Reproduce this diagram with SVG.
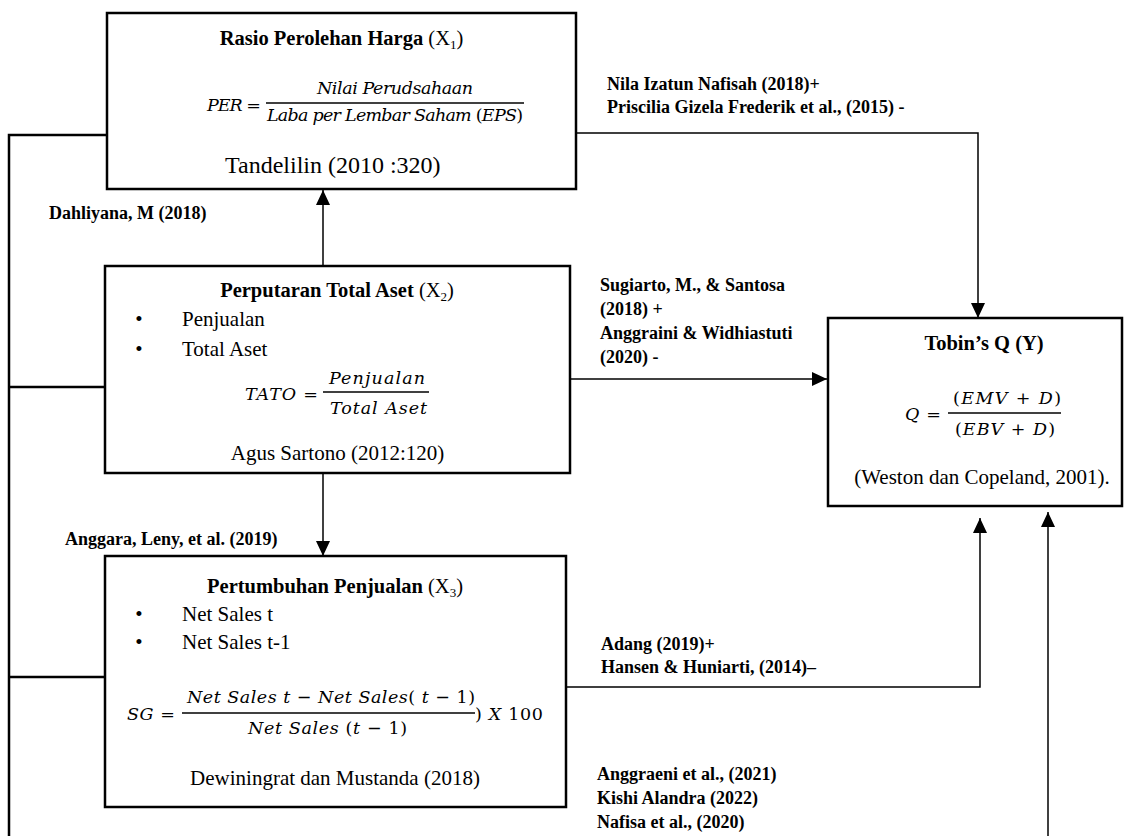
<svg xmlns="http://www.w3.org/2000/svg" width="1133" height="836" viewBox="0 0 1133 836">
<style>
.box{fill:#fff;stroke:#000;stroke-width:2.5}
.t{font-family:"Liberation Serif","Times New Roman",serif;fill:#000}
.title{font-size:20.5px;font-weight:bold}
.nb{font-weight:normal}
.body{font-size:21px}
.lab{font-family:"Liberation Serif","Times New Roman",serif;font-size:18px;font-weight:bold;fill:#000}
.m{font-family:"DejaVu Serif",serif;font-style:italic;font-size:17.5px;fill:#000}
.up{font-style:normal}
.sub{font-size:13px}
.conn{fill:none;stroke:#000;stroke-width:1.5}
.spine{fill:none;stroke:#000;stroke-width:2.5}
.frac{stroke:#000;stroke-width:1.4}
</style>
<defs>
<marker id="ah" markerUnits="userSpaceOnUse" markerWidth="16" markerHeight="16" refX="15" refY="7" orient="auto"><path d="M0,0 L15,7 L0,14 z" fill="#000"/></marker>
</defs>
<rect width="1133" height="836" fill="#fff"/>

<g id="connectors">
<path class="spine" d="M9,836 V135 H107 M9,387 H105 M9,677 H105"/>
<path class="conn" d="M323,266 V190" marker-end="url(#ah)"/>
<path class="conn" d="M323,473 V556" marker-end="url(#ah)"/>
<path class="conn" d="M577,133 H978 V318" marker-end="url(#ah)"/>
<path class="conn" d="M570,379 H827" marker-end="url(#ah)"/>
<path class="conn" d="M566,687 H980 V518" marker-end="url(#ah)"/>
<path class="conn" d="M1048,836 V512" marker-end="url(#ah)"/>
<text class="lab" x="607" y="90">Nila Izatun Nafisah (2018)+</text>
<text class="lab" x="607" y="113">Priscilia Gizela Frederik et al., (2015) -</text>
<text class="lab" x="49" y="219">Dahliyana, M (2018)</text>
<text class="lab" x="600" y="291">Sugiarto, M., &amp; Santosa</text>
<text class="lab" x="600" y="315">(2018) +</text>
<text class="lab" x="600" y="339">Anggraini &amp; Widhiastuti</text>
<text class="lab" x="600" y="363">(2020) -</text>
<text class="lab" x="65" y="545">Anggara, Leny, et al. (2019)</text>
<text class="lab" x="601" y="650">Adang (2019)+</text>
<text class="lab" x="601" y="673">Hansen &amp; Huniarti, (2014)–</text>
<text class="lab" x="597" y="780">Anggraeni et al., (2021)</text>
<text class="lab" x="597" y="804">Kishi Alandra (2022)</text>
<text class="lab" x="597" y="828">Nafisa et al., (2020)</text>
</g>

<g id="x1">
<rect class="box" x="107" y="13" width="469" height="176"/>
<text class="t title" x="341.5" y="45" text-anchor="middle">Rasio Perolehan Harga <tspan class="nb">(X</tspan><tspan class="nb sub" dy="4">1</tspan><tspan class="nb" dy="-4">)</tspan></text>
<text class="m" x="207" y="111" textLength="54">PER <tspan class="up">=</tspan></text>
<text class="m" x="317" y="94" textLength="156">Nilai Perudsahaan</text>
<line class="frac" x1="266" y1="103" x2="524" y2="103"/>
<text class="m" x="267" y="121" textLength="256">Laba per Lembar Saham <tspan class="up">(</tspan>EPS<tspan class="up">)</tspan></text>
<text class="t" x="225" y="173" font-size="24">Tandelilin (2010 :320)</text>
</g>

<g id="x2">
<rect class="box" x="105" y="266" width="465" height="207"/>
<text class="t title" x="337" y="297" text-anchor="middle">Perputaran Total Aset <tspan class="nb">(X</tspan><tspan class="nb sub" dy="4">2</tspan><tspan class="nb" dy="-4">)</tspan></text>
<text class="t body" x="139" y="326" text-anchor="middle">•</text>
<text class="t body" x="182" y="326">Penjualan</text>
<text class="t body" x="139" y="356" text-anchor="middle">•</text>
<text class="t body" x="182" y="356">Total Aset</text>
<text class="m" x="245" y="400" textLength="73">TATO <tspan class="up">=</tspan></text>
<text class="m" x="329" y="384" textLength="96">Penjualan</text>
<line class="frac" x1="323" y1="392" x2="429" y2="392"/>
<text class="m" x="330" y="414" textLength="97">Total Aset</text>
<text class="t body" x="337.5" y="460" text-anchor="middle">Agus Sartono (2012:120)</text>
</g>

<g id="x3">
<rect class="box" x="105" y="556" width="461" height="251"/>
<text class="t title" x="335" y="593" text-anchor="middle">Pertumbuhan Penjualan <tspan class="nb">(X</tspan><tspan class="nb sub" dy="4">3</tspan><tspan class="nb" dy="-4">)</tspan></text>
<text class="t body" x="139" y="621" text-anchor="middle">•</text>
<text class="t body" x="182" y="621">Net Sales t</text>
<text class="t body" x="139" y="649" text-anchor="middle">•</text>
<text class="t body" x="182" y="649">Net Sales t-1</text>
<text class="m" x="127" y="720" textLength="48">SG <tspan class="up">=</tspan></text>
<text class="m" x="187" y="703" textLength="288">Net Sales t <tspan class="up">−</tspan> Net Sales<tspan class="up">(</tspan> t <tspan class="up">− 1)</tspan></text>
<line class="frac" x1="182" y1="713" x2="475" y2="713"/>
<text class="m" x="248" y="734" textLength="159">Net Sales <tspan class="up">(</tspan>t <tspan class="up">− 1)</tspan></text>
<text class="m" x="475" y="720" textLength="68"><tspan class="up">)</tspan> X <tspan class="up">100</tspan></text>
<text class="t body" x="335" y="785" text-anchor="middle">Dewiningrat dan Mustanda (2018)</text>
</g>

<g id="y">
<rect class="box" x="828" y="318" width="294" height="188"/>
<text class="t title" x="984" y="350" text-anchor="middle">Tobin’s Q (Y)</text>
<text class="m" x="905" y="420" textLength="36">Q <tspan class="up">=</tspan></text>
<text class="m" x="953" y="404" textLength="108"><tspan class="up">(</tspan>EMV  <tspan class="up">+ </tspan>D<tspan class="up">)</tspan></text>
<line class="frac" x1="948" y1="413" x2="1061" y2="413"/>
<text class="m" x="955" y="435" textLength="100"><tspan class="up">(</tspan>EBV <tspan class="up">+ </tspan>D<tspan class="up">)</tspan></text>
<text class="t body" x="982" y="484" text-anchor="middle">(Weston dan Copeland, 2001).</text>
</g>
</svg>
